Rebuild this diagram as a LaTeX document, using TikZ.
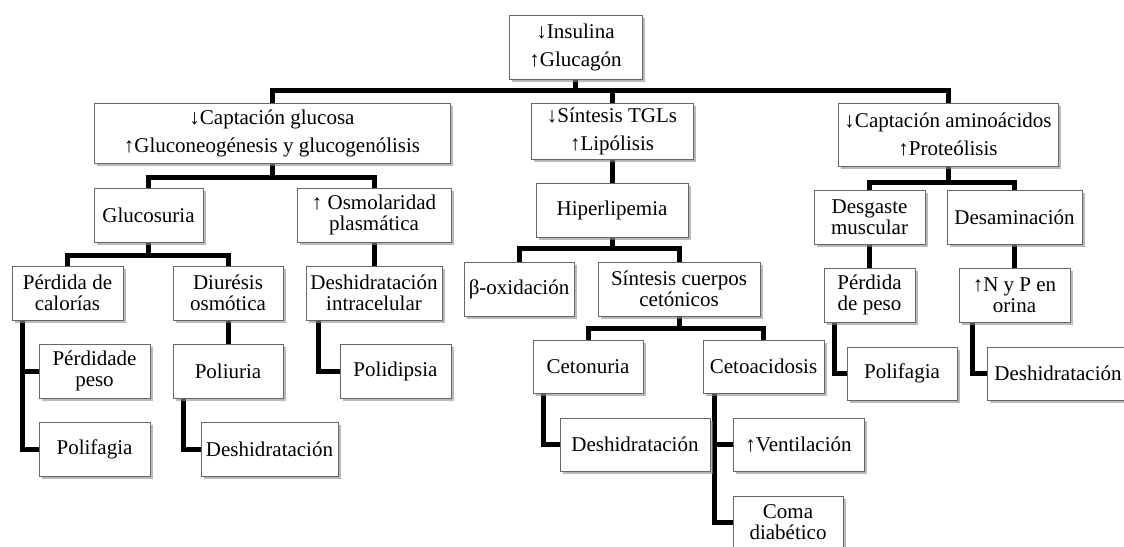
\documentclass[tikz,border=0pt]{standalone}
\usepackage{fontspec}
\setmainfont{Liberation Serif}
\usetikzlibrary{shadows,backgrounds}

\begin{document}
\begin{tikzpicture}[x=1pt, y=-1pt,
		box/.style={draw=black!60, line width=0.8pt, fill=white, align=center, inner sep=0pt,
			font=\fontsize{21pt}{21pt}\selectfont,
			drop shadow={shadow xshift=2.5pt, shadow yshift=-2.5pt, fill=black!45, opacity=0.6}},
		topbox/.style={box, font=\fontsize{21pt}{28pt}\selectfont},
		link/.style={line width=5pt, black}]

		% Fix the page size
		\useasboundingbox (0,0) rectangle (1124,546);

		% Draw the top box
		\node[topbox, minimum width=133pt, minimum height=64pt] (insulina) at (575.5,47) {↓Insulina\\↑Glucagón};

		% Draw the second row
		\node[topbox, minimum width=356pt, minimum height=60pt] (glucosa) at (272,133) {↓Captación glucosa\\↑Gluconeogénesis y glucogenólisis};
		\node[topbox, minimum width=162pt, minimum height=56pt] (tgl) at (612,131) {↓Síntesis TGLs\\↑Lipólisis};
		\node[topbox, minimum width=220pt, minimum height=63pt] (amino) at (948,134.5) {↓Captación aminoácidos\\↑Proteólisis};

		% Draw the third row
		\node[box, minimum width=109pt, minimum height=54pt] (glucosuria) at (148.5,215) {Glucosuria};
		\node[box, minimum width=154pt, minimum height=54pt] (osmol) at (374,215) {↑ Osmolaridad\\plasmática};
		\node[box, minimum width=152pt, minimum height=54pt] (hiperlip) at (612,210) {Hiperlipemia};
		\node[box, minimum width=111pt, minimum height=54pt] (desgaste) at (869.5,217) {Desgaste\\muscular};
		\node[box, minimum width=135pt, minimum height=54pt] (desamin) at (1014.5,217) {Desaminación};

		% Draw the fourth row
		\node[box, minimum width=111pt, minimum height=54pt] (calorias) at (67.5,293) {Pérdida de\\calorías};
		\node[box, minimum width=110pt, minimum height=54pt] (diuresis) at (228,293) {Diurésis\\osmótica};
		\node[box, minimum width=136pt, minimum height=54pt] (deshintra) at (374,293) {Deshidratación\\intracelular};
		\node[box, minimum width=110pt, minimum height=54pt] (betaox) at (519,289) {β-oxidación};
		\node[box, minimum width=162pt, minimum height=54pt] (cuerpos) at (679,289) {Síntesis cuerpos\\cetónicos};
		\node[box, minimum width=91pt, minimum height=54pt] (pesoB) at (869.5,295) {Pérdida\\de peso};
		\node[box, minimum width=111pt, minimum height=54pt] (orina) at (1014.5,295) {↑N y P en\\orina};

		% Draw the lower boxes on the left
		\node[box, minimum width=111pt, minimum height=54pt] (pesoA) at (94.5,371) {Pérdidade\\peso};
		\node[box, minimum width=111pt, minimum height=54pt] (polifagiaA) at (94.5,449) {Polifagia};
		\node[box, minimum width=110pt, minimum height=54pt] (poliuria) at (228,371) {Poliuria};
		\node[box, minimum width=137pt, minimum height=54pt] (deshA) at (269.5,449) {Deshidratación};
		\node[box, minimum width=111pt, minimum height=54pt] (polidipsia) at (395.5,371) {Polidipsia};

		% Draw the lower boxes in the middle
		\node[box, minimum width=110pt, minimum height=53pt] (cetonuria) at (588,366.5) {Cetonuria};
		\node[box, minimum width=121pt, minimum height=53pt] (cetoacid) at (763.5,366.5) {Cetoacidosis};
		\node[box, minimum width=150pt, minimum height=53pt] (deshB) at (635,444.5) {Deshidratación};
		\node[box, minimum width=131pt, minimum height=53pt] (ventil) at (798.5,444.5) {↑Ventilación};
		\node[box, minimum width=110pt, minimum height=52pt] (coma) at (788,522) {Coma\\diabético};

		% Draw the lower boxes on the right
		\node[box, minimum width=110pt, minimum height=53pt] (polifagiaB) at (902,373.5) {Polifagia};
		\node[box, minimum width=142pt, minimum height=53pt] (deshC) at (1058,373.5) {Deshidratación};

		% Draw the connectors behind the boxes
		\begin{scope}[on background layer]
			\draw[link] (insulina.south) -- ++(0,11) -| (glucosa.north);
			\draw[link] (insulina.south) -- ++(0,11) -| (tgl.north);
			\draw[link] (insulina.south) -- ++(0,11) -| (amino.north);

			\draw[link] (glucosa.south) -- ++(0,14) -| (glucosuria.north);
			\draw[link] (glucosa.south) -- ++(0,14) -| (osmol.north);
			\draw[link] (tgl.south) -- (hiperlip.north);
			\draw[link] (amino.south) -- ++(0,16) -| (desgaste.north);
			\draw[link] (amino.south) -- ++(0,16) -| (desamin.north);

			\draw[link] (glucosuria.south) -- ++(0,13) -| (calorias.north);
			\draw[link] (glucosuria.south) -- ++(0,13) -| (diuresis.north);
			\draw[link] (osmol.south) -- (deshintra.north);
			\draw[link] (hiperlip.south) -- ++(0,11) -| (betaox.north);
			\draw[link] (hiperlip.south) -- ++(0,11) -| (cuerpos.north);
			\draw[link] (desgaste.south) -- (pesoB.north);
			\draw[link] (desamin.south) -- (orina.north);

			\draw[link] ([xshift=11pt]calorias.south west) |- (pesoA.west);
			\draw[link] ([xshift=11pt]calorias.south west) |- (polifagiaA.west);
			\draw[link] (diuresis.south) -- (poliuria.north);
			\draw[link] ([xshift=11pt]poliuria.south west) |- (deshA.west);
			\draw[link] ([xshift=13pt]deshintra.south west) |- (polidipsia.west);

			\draw[link] (cuerpos.south) -- ++(0,12) -| (cetonuria.north);
			\draw[link] (cuerpos.south) -- ++(0,12) -| (cetoacid.north);
			\draw[link] ([xshift=11pt]cetonuria.south west) |- (deshB.west);
			\draw[link] ([xshift=12pt]cetoacid.south west) |- (ventil.west);
			\draw[link] ([xshift=12pt]cetoacid.south west) |- (coma.west);

			\draw[link] ([xshift=11pt]pesoB.south west) |- (polifagiaB.west);
			\draw[link] ([xshift=14pt]orina.south west) |- (deshC.west);
		\end{scope}

	\end{tikzpicture}
\end{document}
